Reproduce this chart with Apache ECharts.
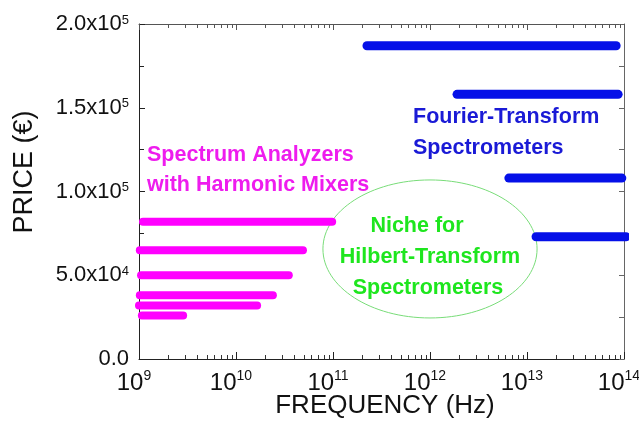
<!DOCTYPE html>
<html><head><meta charset="utf-8">
<script src="https://cdn.jsdelivr.net/npm/echarts@6/dist/echarts.min.js"></script>
<style>html,body{margin:0;padding:0;background:#fff}#c{width:639px;height:422px}</style>
</head><body><div id="c"></div>
<script>
// Spectrum analyzers with harmonic mixers (magenta)
const magentaStart = [1.1e9, 1.02e9, 1.05e9, 1.02e9, 1.0e9, 1.07e9];
const magentaEnd   = [9.8e10, 4.9e10, 3.5e10, 2.4e10, 1.65e10, 2.85e9];
const magentaPrice = [8.2e4, 6.5e4, 5.0e4, 3.8e4, 3.2e4, 2.6e4];
// Fourier-transform spectrometers (blue)
const blueStart = [2.24e11, 1.9e12, 6.5e12, 1.24e13];
const blueEnd   = [8.3e13, 8.7e13, 9.5e13, 1.05e14];
const bluePrice = [1.87e5, 1.58e5, 1.08e5, 7.3e4];
// niche ellipse (data coordinates): center, right edge x, top edge y
const nicheCenter = [1e12, 6.57e4];
const nicheRightX = 1.27e13;
const nicheTopY = 1.069e5;
// axis ranges / tick labels
const xDecades = [9, 10, 11, 12, 13, 14];
const minorMultipliers = [2, 3, 4, 5, 6, 7, 8, 9];
const yTicks = [0, 5e4, 1e5, 1.5e5, 2e5];
const xTitle = 'FREQUENCY (Hz)';
const yTitle = 'PRICE (€)';

const FONT = '"Liberation Sans", Arial, sans-serif';
const chart = echarts.init(document.getElementById('c'), null, {renderer: 'canvas'});

function supX(v) {
  const e = Math.round(Math.log10(v));
  return '{b|10}{s|' + e + '}';
}
function supY(v) {
  if (Math.abs(v) < 1e-9) return '{b|0.0}';
  const e = Math.floor(Math.log10(v) + 1e-9);
  const m = v / Math.pow(10, e);
  return '{b|' + m.toFixed(1) + 'x10}{s|' + e + '}';
}

const minorTicks = [];
xDecades.slice(0, -1).forEach(d => minorMultipliers.forEach(m => minorTicks.push([m * Math.pow(10, d), 0])));

const series = [];
magentaPrice.forEach((p, i) => series.push({
  type: 'line', data: [[magentaStart[i], p], [magentaEnd[i], p]], symbol: 'none', clip: false,
  silent: true, lineStyle: {color: '#ff00ff', width: 8, cap: 'round'}
}));
bluePrice.forEach((p, i) => series.push({
  type: 'line', data: [[blueStart[i], p], [blueEnd[i], p]], symbol: 'none', clip: false,
  silent: true, lineStyle: {color: '#0510e8', width: 9, cap: 'round'}
}));
series.push({
  type: 'custom', silent: true, clip: false, data: minorTicks, encode: {x: 0, y: 1}, z: 5,
  renderItem: function (params, api) {
    const v = api.value(0);
    const b = api.coord([v, 0]);
    const t = api.coord([v, 2e5]);
    const x = Math.round(b[0]) + 0.5;
    return {type: 'group', children: [
      {type: 'line', shape: {x1: x, y1: b[1], x2: x, y2: b[1] - 4}, style: {stroke: '#333', lineWidth: 1}},
      {type: 'line', shape: {x1: x, y1: t[1], x2: x, y2: t[1] + 4}, style: {stroke: '#555', lineWidth: 1}}
    ]};
  }
});
series.push({
  type: 'custom', silent: true, clip: false, data: [nicheCenter], encode: {x: 0, y: 1}, z: 1,
  renderItem: function (params, api) {
    const c = api.coord([api.value(0), api.value(1)]);
    const r = api.coord([nicheRightX, api.value(1)]);
    const t = api.coord([api.value(0), nicheTopY]);
    return {type: 'ellipse', shape: {cx: c[0], cy: c[1], rx: r[0] - c[0], ry: c[1] - t[1]},
      style: {fill: 'none', stroke: '#78dc78', lineWidth: 1}};
  }
});

const axisCommonX = {
  type: 'log', logBase: 10, min: Math.pow(10, xDecades[0]), max: Math.pow(10, xDecades[xDecades.length - 1]),
  splitLine: {show: false}
};
const yCommon = {
  type: 'value', min: yTicks[0], max: yTicks[yTicks.length - 1], interval: yTicks[1] - yTicks[0],
  splitLine: {show: false}, minorSplitLine: {show: false}
};

chart.setOption({
  animation: false,
  grid: {left: 139, right: 15, top: 24, bottom: 63, containLabel: false, outerBoundsMode: 'none'},
  xAxis: [
    Object.assign({}, axisCommonX, {
      position: 'bottom',
      axisLine: {show: true, onZero: false, lineStyle: {color: '#222', width: 1}},
      axisTick: {show: true, inside: true, length: 7, lineStyle: {color: '#222'}},
      axisLabel: {
        show: true, margin: 10, formatter: supX, hideOverlap: false, padding: [0, 10, 0, 0],
        rich: {
          b: {fontFamily: FONT, fontSize: 24, color: '#111'},
          s: {fontFamily: FONT, fontSize: 14, color: '#111', padding: [0, 0, 14, 0]}
        }
      }
    }),
    Object.assign({}, axisCommonX, {
      position: 'top',
      axisLine: {show: true, onZero: false, lineStyle: {color: '#555', width: 1}},
      axisTick: {show: true, inside: true, length: 6, lineStyle: {color: '#555'}},
      axisLabel: {show: false}
    })
  ],
  yAxis: [
    Object.assign({}, yCommon, {
      position: 'left',
      axisLine: {show: true, onZero: false, lineStyle: {color: '#222', width: 1}},
      axisTick: {show: true, inside: true, length: 6, lineStyle: {color: '#222'}},
      minorTick: {show: true, splitNumber: 2, length: 5, lineStyle: {color: '#222'}},
      axisLabel: {
        show: true, margin: 10, formatter: supY,
        rich: {
          b: {fontFamily: FONT, fontSize: 22, color: '#111'},
          s: {fontFamily: FONT, fontSize: 13, color: '#111', padding: [0, 0, 8, 0]}
        }
      }
    }),
    Object.assign({}, yCommon, {
      position: 'right',
      axisLine: {show: true, onZero: false, lineStyle: {color: '#666', width: 1}},
      axisTick: {show: true, inside: true, length: 5, lineStyle: {color: '#666'}},
      minorTick: {show: true, splitNumber: 2, length: 5, lineStyle: {color: '#666'}},
      axisLabel: {show: false}
    })
  ],
  series: series,
  graphic: [
    {type: 'text', x: 25, y: 172, rotation: Math.PI / 2, silent: true,
      style: {text: yTitle, font: '27px ' + FONT, fill: '#111', align: 'center', verticalAlign: 'middle'}},
    {type: 'text', x: 385, y: 406, silent: true,
      style: {text: xTitle, font: '26px ' + FONT, fill: '#111', align: 'center', verticalAlign: 'middle'}},
    {type: 'text', x: 147, y: 170, silent: true,
      style: {text: 'Spectrum Analyzers\nwith Harmonic Mixers', font: 'bold 21.5px ' + FONT, lineHeight: 30,
        fill: '#ee1cee', align: 'left', verticalAlign: 'middle'}},
    {type: 'text', x: 413, y: 132.5, silent: true,
      style: {text: 'Fourier-Transform\nSpectrometers', font: 'bold 21.5px ' + FONT, lineHeight: 31,
        fill: '#1a1ad6', align: 'left', verticalAlign: 'middle'}},
    {type: 'text', x: 417, y: 226, silent: true,
      style: {text: 'Niche for', font: 'bold 21.5px ' + FONT, fill: '#1ee61e', align: 'center', verticalAlign: 'middle'}},
    {type: 'text', x: 430, y: 257, silent: true,
      style: {text: 'Hilbert-Transform', font: 'bold 21.5px ' + FONT, fill: '#1ee61e', align: 'center', verticalAlign: 'middle'}},
    {type: 'text', x: 428, y: 288, silent: true,
      style: {text: 'Spectrometers', font: 'bold 21.5px ' + FONT, fill: '#1ee61e', align: 'center', verticalAlign: 'middle'}}
  ]
});
</script></body></html>
